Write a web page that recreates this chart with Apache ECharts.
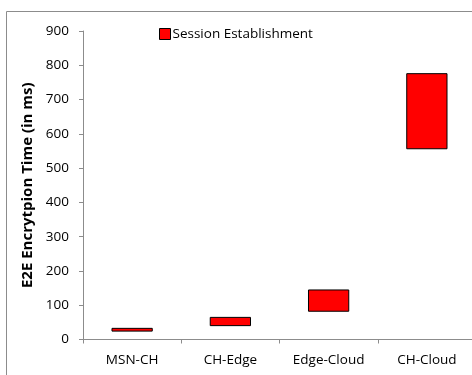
<!DOCTYPE html>
<html>
<head>
<meta charset="utf-8">
<script src="https://cdn.jsdelivr.net/npm/echarts@6/dist/echarts.min.js"></script>
<style>
  html, body { margin: 0; padding: 0; overflow: hidden; background: #fff; }
  #chart { width: 480px; height: 375px; }
</style>
</head>
<body>
<div id="chart"></div>
<script>
// 类别和数据
var categories = ['MSN-CH', 'CH-Edge', 'Edge-Cloud', 'CH-Cloud'];
var lowValues = [23, 39, 81, 555];   // 浮动柱底部
var highValues = [34, 66, 146, 777]; // 浮动柱顶部
var yTicks = [0, 100, 200, 300, 400, 500, 600, 700, 800, 900];

var font = 'Open Sans';
var spans = highValues.map(function (h, i) { return h - lowValues[i]; });

var chart = echarts.init(document.getElementById('chart'));
var option = {
  animation: false,
  textStyle: { fontFamily: font },
  graphic: [{
    type: 'rect',
    shape: { x: 6.5, y: 11.5, width: 600, height: 500 },
    style: { fill: 'none', stroke: '#8c8c8c', lineWidth: 1 },
    silent: true
  }],
  legend: {
    data: [{ name: 'Session Establishment', icon: 'rect' }],
    left: 154,
    top: 22,
    itemWidth: 11,
    itemHeight: 11,
    itemGap: 4,
    textStyle: { fontFamily: font, fontSize: 13.5, color: '#000', padding: [0, 0, 0, -3] },
    itemStyle: { borderColor: '#000', borderWidth: 1 }
  },
  grid: { left: 83, right: 4, top: 31, bottom: 35.5 },
  xAxis: {
    type: 'category',
    data: categories,
    axisLine: { lineStyle: { color: '#8c8c8c' } },
    axisTick: { show: true, length: 4, lineStyle: { color: '#8c8c8c' } },
    axisLabel: { color: '#000', fontSize: 13.5, fontFamily: font, margin: 14 }
  },
  yAxis: {
    type: 'value',
    min: yTicks[0],
    max: yTicks[yTicks.length - 1],
    interval: 100,
    name: 'E2E Encrytpion Time (in ms)',
    nameLocation: 'middle',
    nameGap: 48,
    nameTextStyle: { fontFamily: font, fontSize: 15, fontWeight: 'bold', color: '#000' },
    splitLine: { show: false },
    axisLine: { show: true, lineStyle: { color: '#8c8c8c' } },
    axisTick: { show: true, length: 4, lineStyle: { color: '#8c8c8c' } },
    axisLabel: { color: '#000', fontSize: 13.5, fontFamily: font, margin: 14 }
  },
  series: [
    {
      name: 'base',
      type: 'bar',
      stack: 'range',
      data: lowValues,
      barWidth: '42%',
      itemStyle: { color: 'transparent' },
      silent: true
    },
    {
      name: 'Session Establishment',
      type: 'bar',
      stack: 'range',
      data: spans,
      barWidth: '42%',
      itemStyle: { color: '#ff0000', borderColor: '#000', borderWidth: 1 }
    }
  ]
};
chart.setOption(option);
</script>
</body>
</html>
